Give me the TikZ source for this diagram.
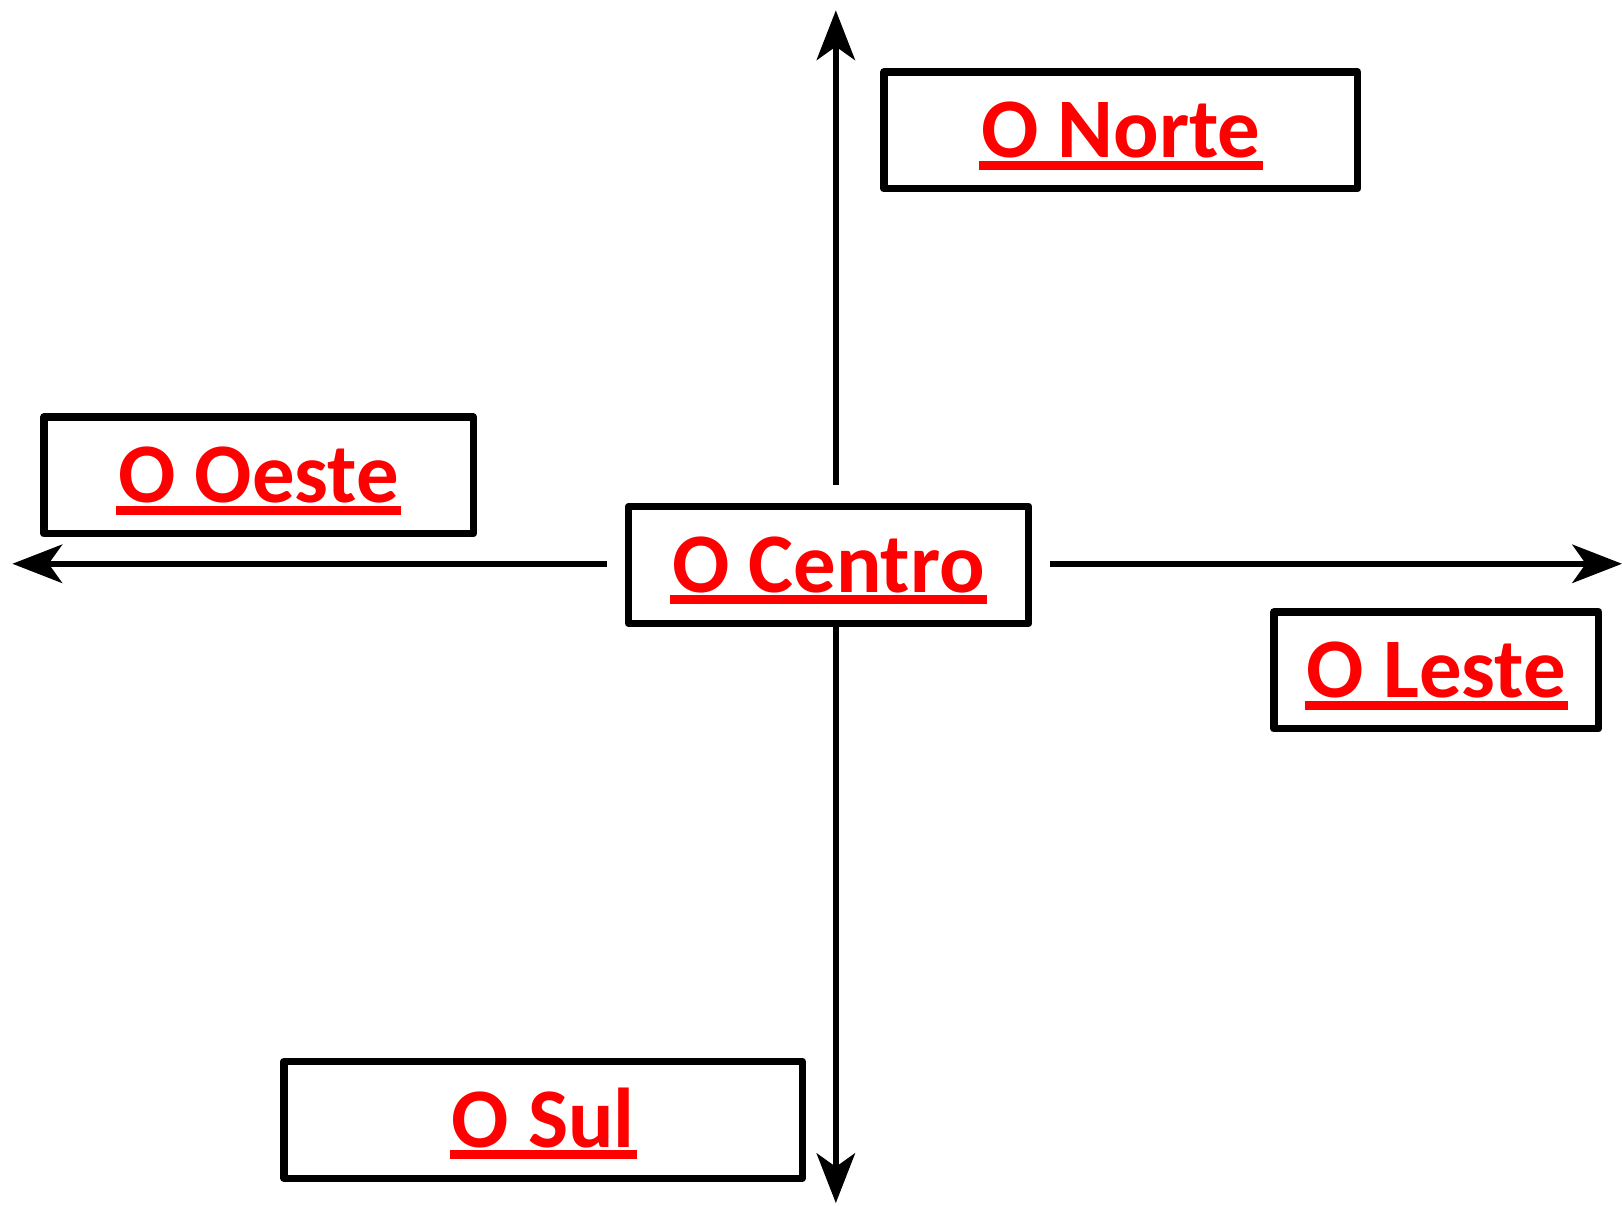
\documentclass[tikz,border=0pt]{standalone}
\usepackage{fontspec}
\setmainfont{Carlito}
\usetikzlibrary{arrows.meta,positioning}
\newcommand{\redline}[1]{\setbox0\hbox{#1}\rlap{\kern-2pt\vrule height -3pt depth 11.5pt width \dimexpr\wd0+4pt\relax}\box0}

\begin{document}
\begin{tikzpicture}[x=1pt,y=-1pt,
  every node/.style={draw,line width=7pt,line join=round,inner sep=0pt,text=red,
    font=\fontsize{82}{94}\selectfont\bfseries,text height=53pt,text depth=0pt,minimum height=113pt},
  dir/.style={line width=6pt,-{Stealth[length=48pt,width=37pt,inset=13pt]}}]
\useasboundingbox (0,0) rectangle (1568,1165);
\node[minimum width=387pt] (centro) at (801,546) {\redline{O Centro}};
\node[minimum width=458pt] (norte) at (1083.5,126) {\redline{O Norte}};
\node[minimum width=415pt] (oeste) at (250,459.5) {\redline{O Oeste}};
\node[minimum width=314pt] (leste) at (1388.5,648) {\redline{O Leste}};
\node[minimum width=501pt] (sul) at (525,1082.5) {\redline{O Sul}};
% free ends of the arrows
\coordinate (up) at (808,10);
\coordinate (down) at (808,1163);
\coordinate (west) at (12,545);
\coordinate (east) at (1568,545);
\draw[dir,shorten <=17pt] (centro.north -| up) -- (up);
\draw[dir] (centro.south -| down) -- (down);
\draw[dir,shorten <=17pt] (centro.west |- west) -- (west);
\draw[dir,shorten <=17pt] (centro.east |- east) -- (east);
\end{tikzpicture}
\end{document}
